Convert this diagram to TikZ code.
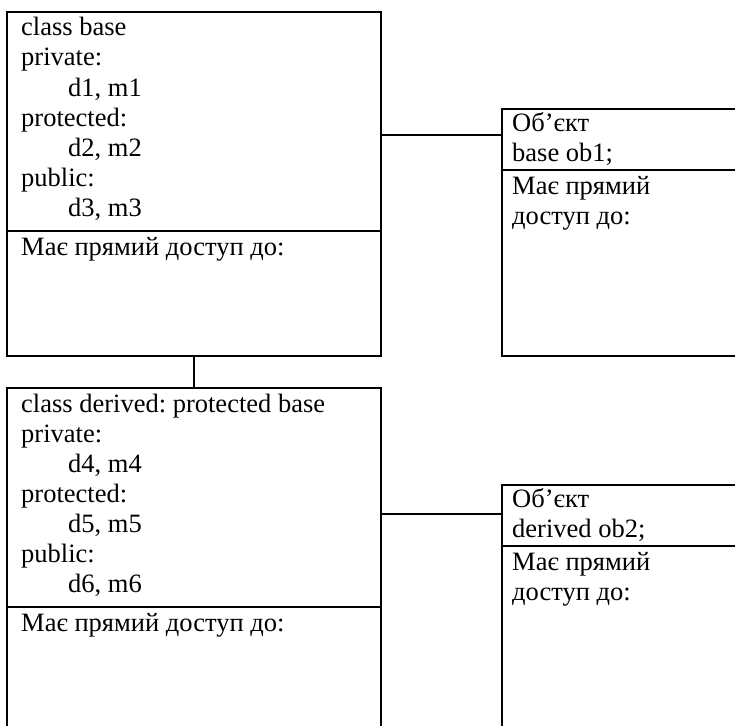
\documentclass[tikz,border=0pt]{standalone}
\usepackage{fontspec}
\setmainfont{Liberation Serif}
\frenchspacing
\begin{document}
\begin{tikzpicture}[x=1pt,y=-1pt,
  box/.style={draw,line width=1.6pt,rectangle,inner sep=0pt,anchor=north west},
  txt/.style={anchor=base west,inner sep=0pt,font=\fontsize{26.5}{30}\selectfont},
  conn/.style={line width=1.6pt}]
\useasboundingbox (0,0) rectangle (735,725);
\clip (0,0) rectangle (735,725);
% boxes
\node[box,minimum width=374pt,minimum height=219pt] (A1) at (6,11) {};
\node[box,minimum width=374pt,minimum height=125pt] (A2) at (6,230) {};
\node[box,minimum width=300pt,minimum height=61pt] (B1) at (501,108) {};
\node[box,minimum width=300pt,minimum height=186pt] (B2) at (501,169) {};
\node[box,minimum width=374pt,minimum height=219pt] (C1) at (6,387) {};
\node[box,minimum width=374pt,minimum height=160pt] (C2) at (6,606) {};
\node[box,minimum width=300pt,minimum height=61pt] (D1) at (501,484) {};
\node[box,minimum width=300pt,minimum height=260pt] (D2) at (501,545) {};
% connectors
\draw[conn] ([yshift=4.5pt]B1.west) -- ([yshift=4.5pt]B1.west -| A1.east);
\draw[conn] ([yshift=1.5pt]D1.west) -- ([yshift=1.5pt]D1.west -| C1.east);
\draw[conn] (A2.south) -- (C1.north);
% texts of base
\node[txt] (a1) at (21,36) {class base};
\node[txt] (a2) at (21,66) {private:};
\node[txt] (a3) at (68,96) {d1, m1};
\node[txt] (a4) at (21,126) {protected:};
\node[txt] (a5) at (68,156) {d2, m2};
\node[txt] (a6) at (21,186) {public:};
\node[txt] (a7) at (68,216) {d3, m3};
\node[txt] (a8) at (21,255) {Має прямий доступ до:};
% texts of ob1
\node[txt] (b1) at (512,131) {Об’єкт};
\node[txt] (b2) at (512,161) {base ob1;};
\node[txt] (b3) at (512,194) {Має прямий};
\node[txt] (b4) at (512,224) {доступ до:};
% texts of derived
\node[txt] (c1) at (21,412) {class derived: protected base};
\node[txt] (c2) at (21,442) {private:};
\node[txt] (c3) at (68,472) {d4, m4};
\node[txt] (c4) at (21,502) {protected:};
\node[txt] (c5) at (68,532) {d5, m5};
\node[txt] (c6) at (21,562) {public:};
\node[txt] (c7) at (68,592) {d6, m6};
\node[txt] (c8) at (21,631) {Має прямий доступ до:};
% texts of ob2
\node[txt] (d1) at (512,507) {Об’єкт};
\node[txt] (d2) at (512,537) {derived ob2;};
\node[txt] (d3) at (512,570) {Має прямий};
\node[txt] (d4) at (512,600) {доступ до:};
\end{tikzpicture}
\end{document}
